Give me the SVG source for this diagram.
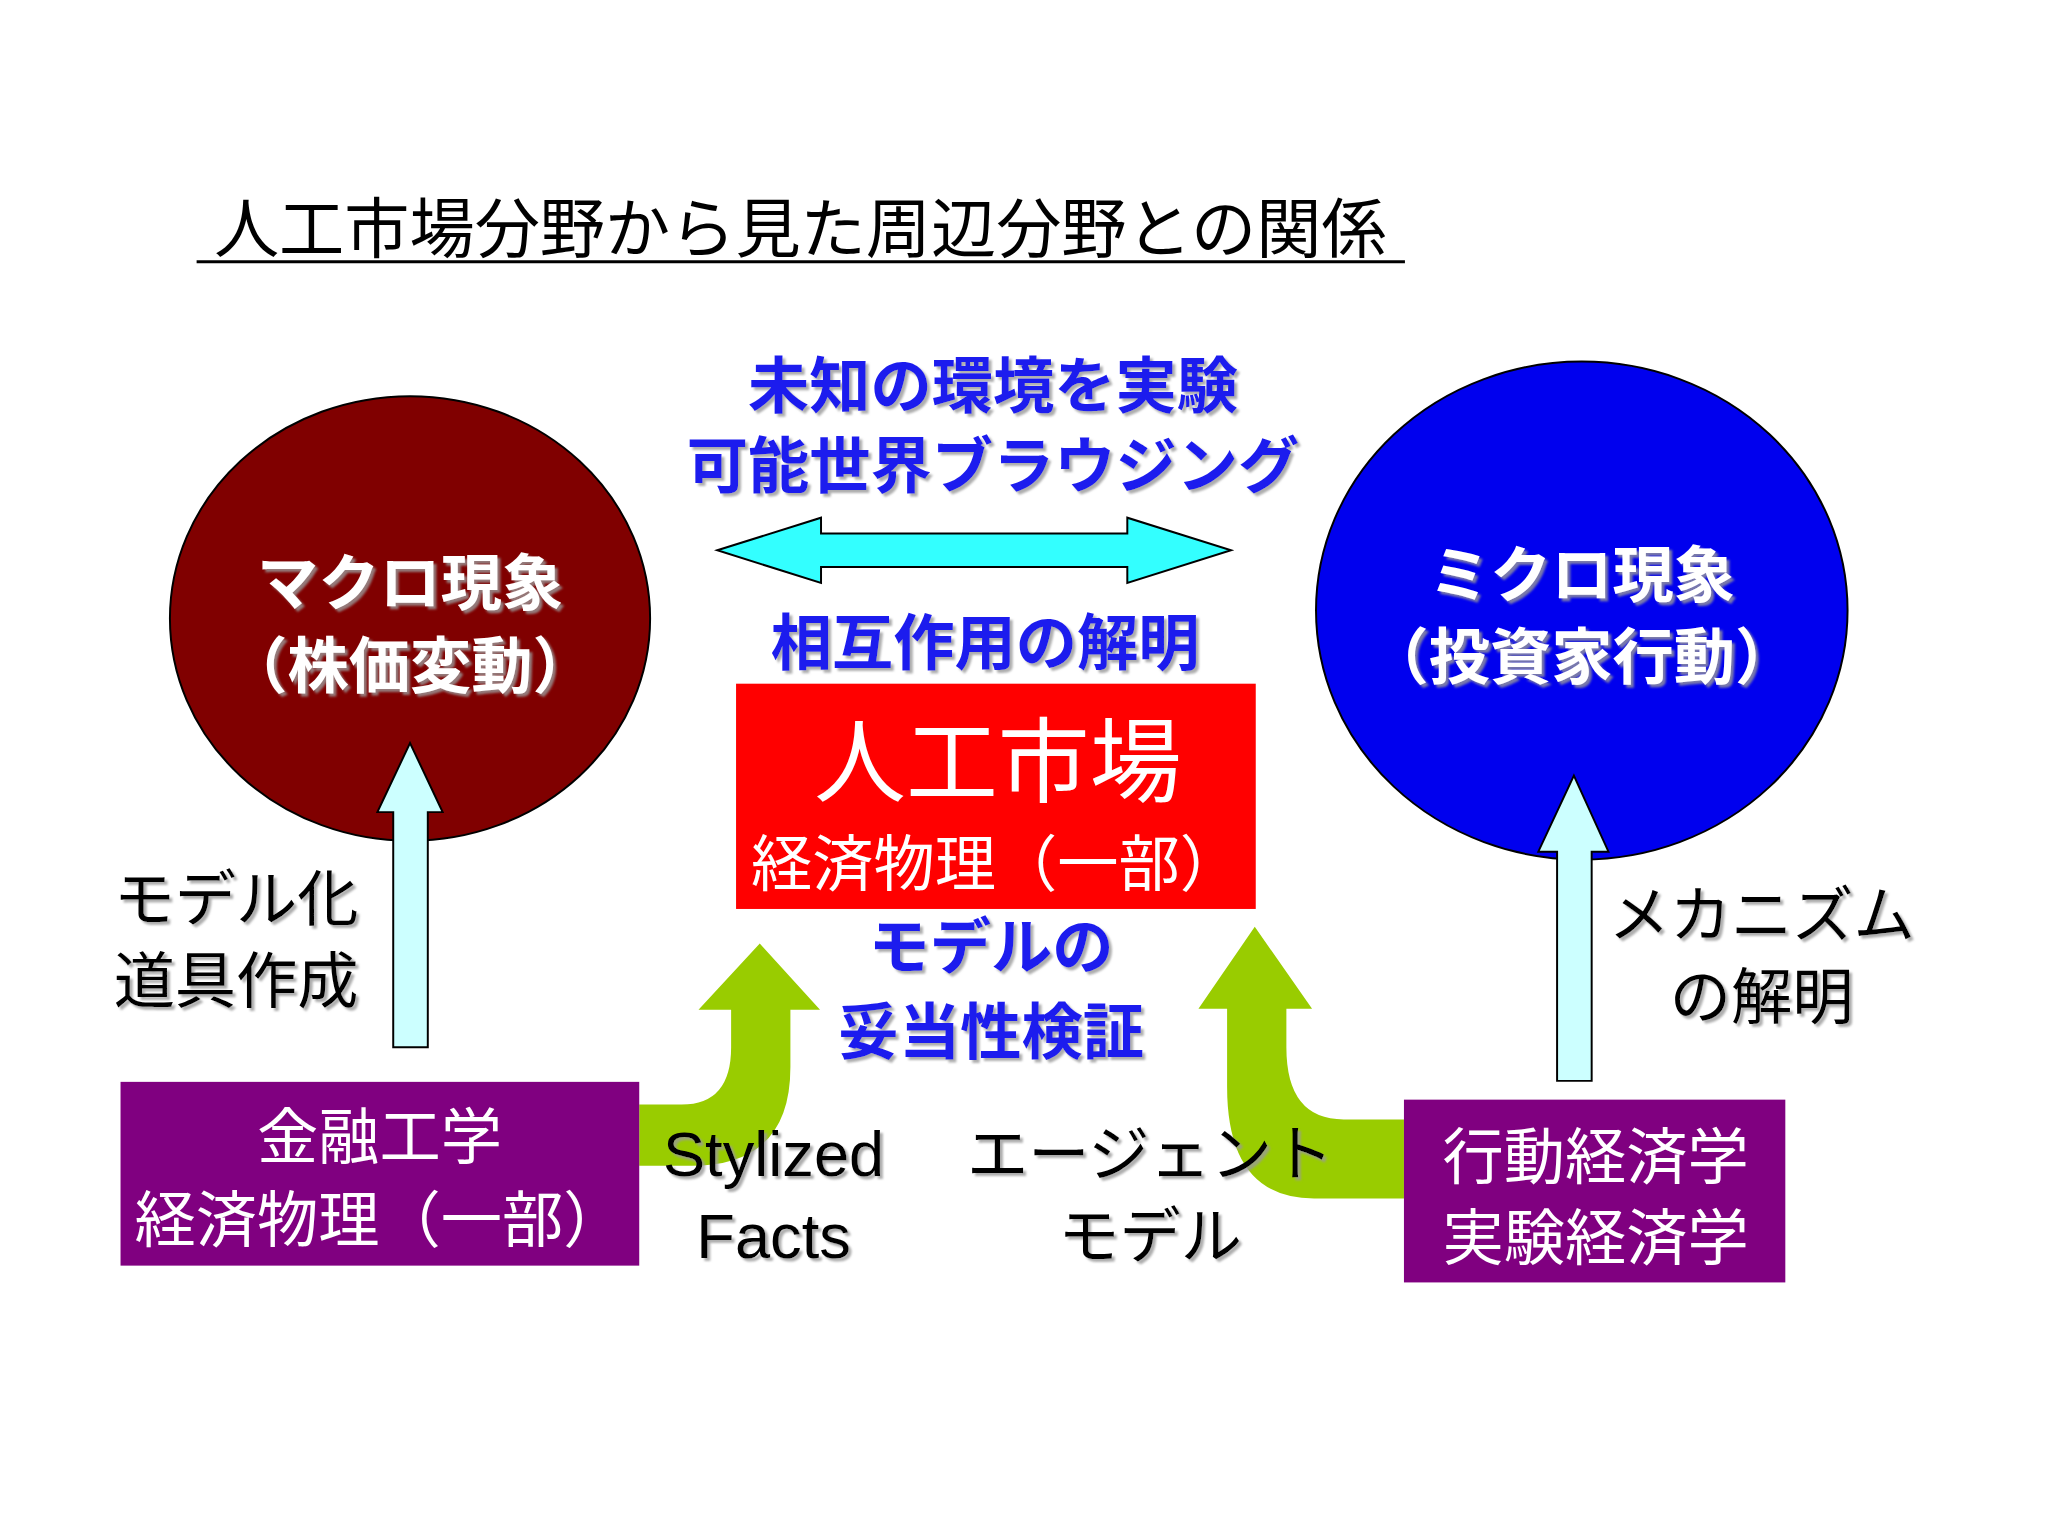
<svg xmlns="http://www.w3.org/2000/svg" width="2048" height="1536" viewBox="0 0 2048 1536">
<defs>
<filter id="sh" x="-10%" y="-10%" width="120%" height="130%"><feDropShadow dx="3" dy="3" stdDeviation="1" flood-color="#999" flood-opacity="0.8"/></filter>
</defs>
<style>
text{font-family:"Liberation Sans","Noto Sans CJK JP",sans-serif;text-anchor:middle}
.b{fill:#1a1aee;font-size:62px;font-weight:bold;filter:url(#sh)}
.w{fill:#fff;font-size:62px}
.wb{fill:#fff;font-size:62px;font-weight:bold;filter:url(#sh)}
.k{fill:#000;font-size:62px;filter:url(#sh)}
.green{fill:#99cc00}
.up{fill:#ccffff;stroke:#000;stroke-width:2}
</style>
<rect width="2048" height="1536" fill="#fff"/>
<g transform="scale(0.988)">
<g id="title">
<text x="810" y="255" style="font-size:66px;fill:#000">人工市場分野から見た周辺分野との関係</text>
<line x1="199" y1="265" x2="1422" y2="265" stroke="#000" stroke-width="3"/>
</g>
<g id="connectors">
<path class="green" d="M647,1118 L690,1118 Q740,1118 740,1060 L740,1022 L707,1022 L769,955 L830,1022 L800,1022 L800,1080 Q800,1180 700,1180 L647,1180 Z"/>
<path class="green" d="M1421,1133 L1360,1133 Q1302,1133 1302,1060 L1302,1021 L1328,1021 L1270,938 L1213,1021 L1242,1021 L1242,1100 Q1242,1213 1330,1213 L1421,1213 Z"/>
<path d="M726,557 L831,524 L831,540 L1141,540 L1141,524 L1246,557 L1141,590 L1141,574 L831,574 L831,590 Z" fill="#33ffff" stroke="#000" stroke-width="2"/>
</g>
<g id="macro">
<ellipse cx="415" cy="626" rx="243" ry="225" fill="#800000" stroke="#000" stroke-width="2"/>
<text class="wb" x="415" y="612">マクロ現象</text>
<text class="wb" x="415" y="696">（株価変動）</text>
</g>
<g id="micro">
<ellipse cx="1601" cy="618" rx="269" ry="252" fill="#0000ee" stroke="#000" stroke-width="2"/>
<text class="wb" x="1601" y="604">ミクロ現象</text>
<text class="wb" x="1601" y="687">（投資家行動）</text>
</g>
<g id="upArrows">
<path class="up" d="M398,1060 L398,822 L382,822 L415,752 L448,822 L433,822 L433,1060 Z"/>
<path class="up" d="M1576,1094 L1576,862 L1557,862 L1593,785 L1628,862 L1611,862 L1611,1094 Z"/>
</g>
<g id="market">
<rect x="745" y="692" width="526" height="228" fill="#ff0000"/>
<text class="w" x="1010" y="805" style="font-size:93px">人工市場</text>
<text class="w" x="1008" y="897">経済物理（一部）</text>
</g>
<g id="finance">
<rect x="122" y="1095" width="525" height="186" fill="#800080"/>
<text class="w" x="384" y="1173">金融工学</text>
<text class="w" x="384" y="1257">経済物理（一部）</text>
</g>
<g id="behavior">
<rect x="1421" y="1113" width="386" height="185" fill="#800080"/>
<text class="w" x="1615" y="1193">行動経済学</text>
<text class="w" x="1615" y="1275">実験経済学</text>
</g>
<g id="labels">
<text class="b" x="1005" y="413">未知の環境を実験</text>
<text class="b" x="1005" y="494">可能世界ブラウジング</text>
<text class="b" x="997" y="673">相互作用の解明</text>
<text class="b" x="1003" y="981">モデルの</text>
<text class="b" x="1003" y="1067">妥当性検証</text>
<text class="k" x="239" y="932">モデル化</text>
<text class="k" x="239" y="1015">道具作成</text>
<text class="k" x="1783" y="948">メカニズム</text>
<text class="k" x="1783" y="1031">の解明</text>
<text class="k" x="783" y="1190" style="font-size:64px">Stylized</text>
<text class="k" x="783" y="1273" style="font-size:64px">Facts</text>
<text class="k" x="1164" y="1190">エージェント</text>
<text class="k" x="1164" y="1273">モデル</text>
</g>
</g>
</svg>
